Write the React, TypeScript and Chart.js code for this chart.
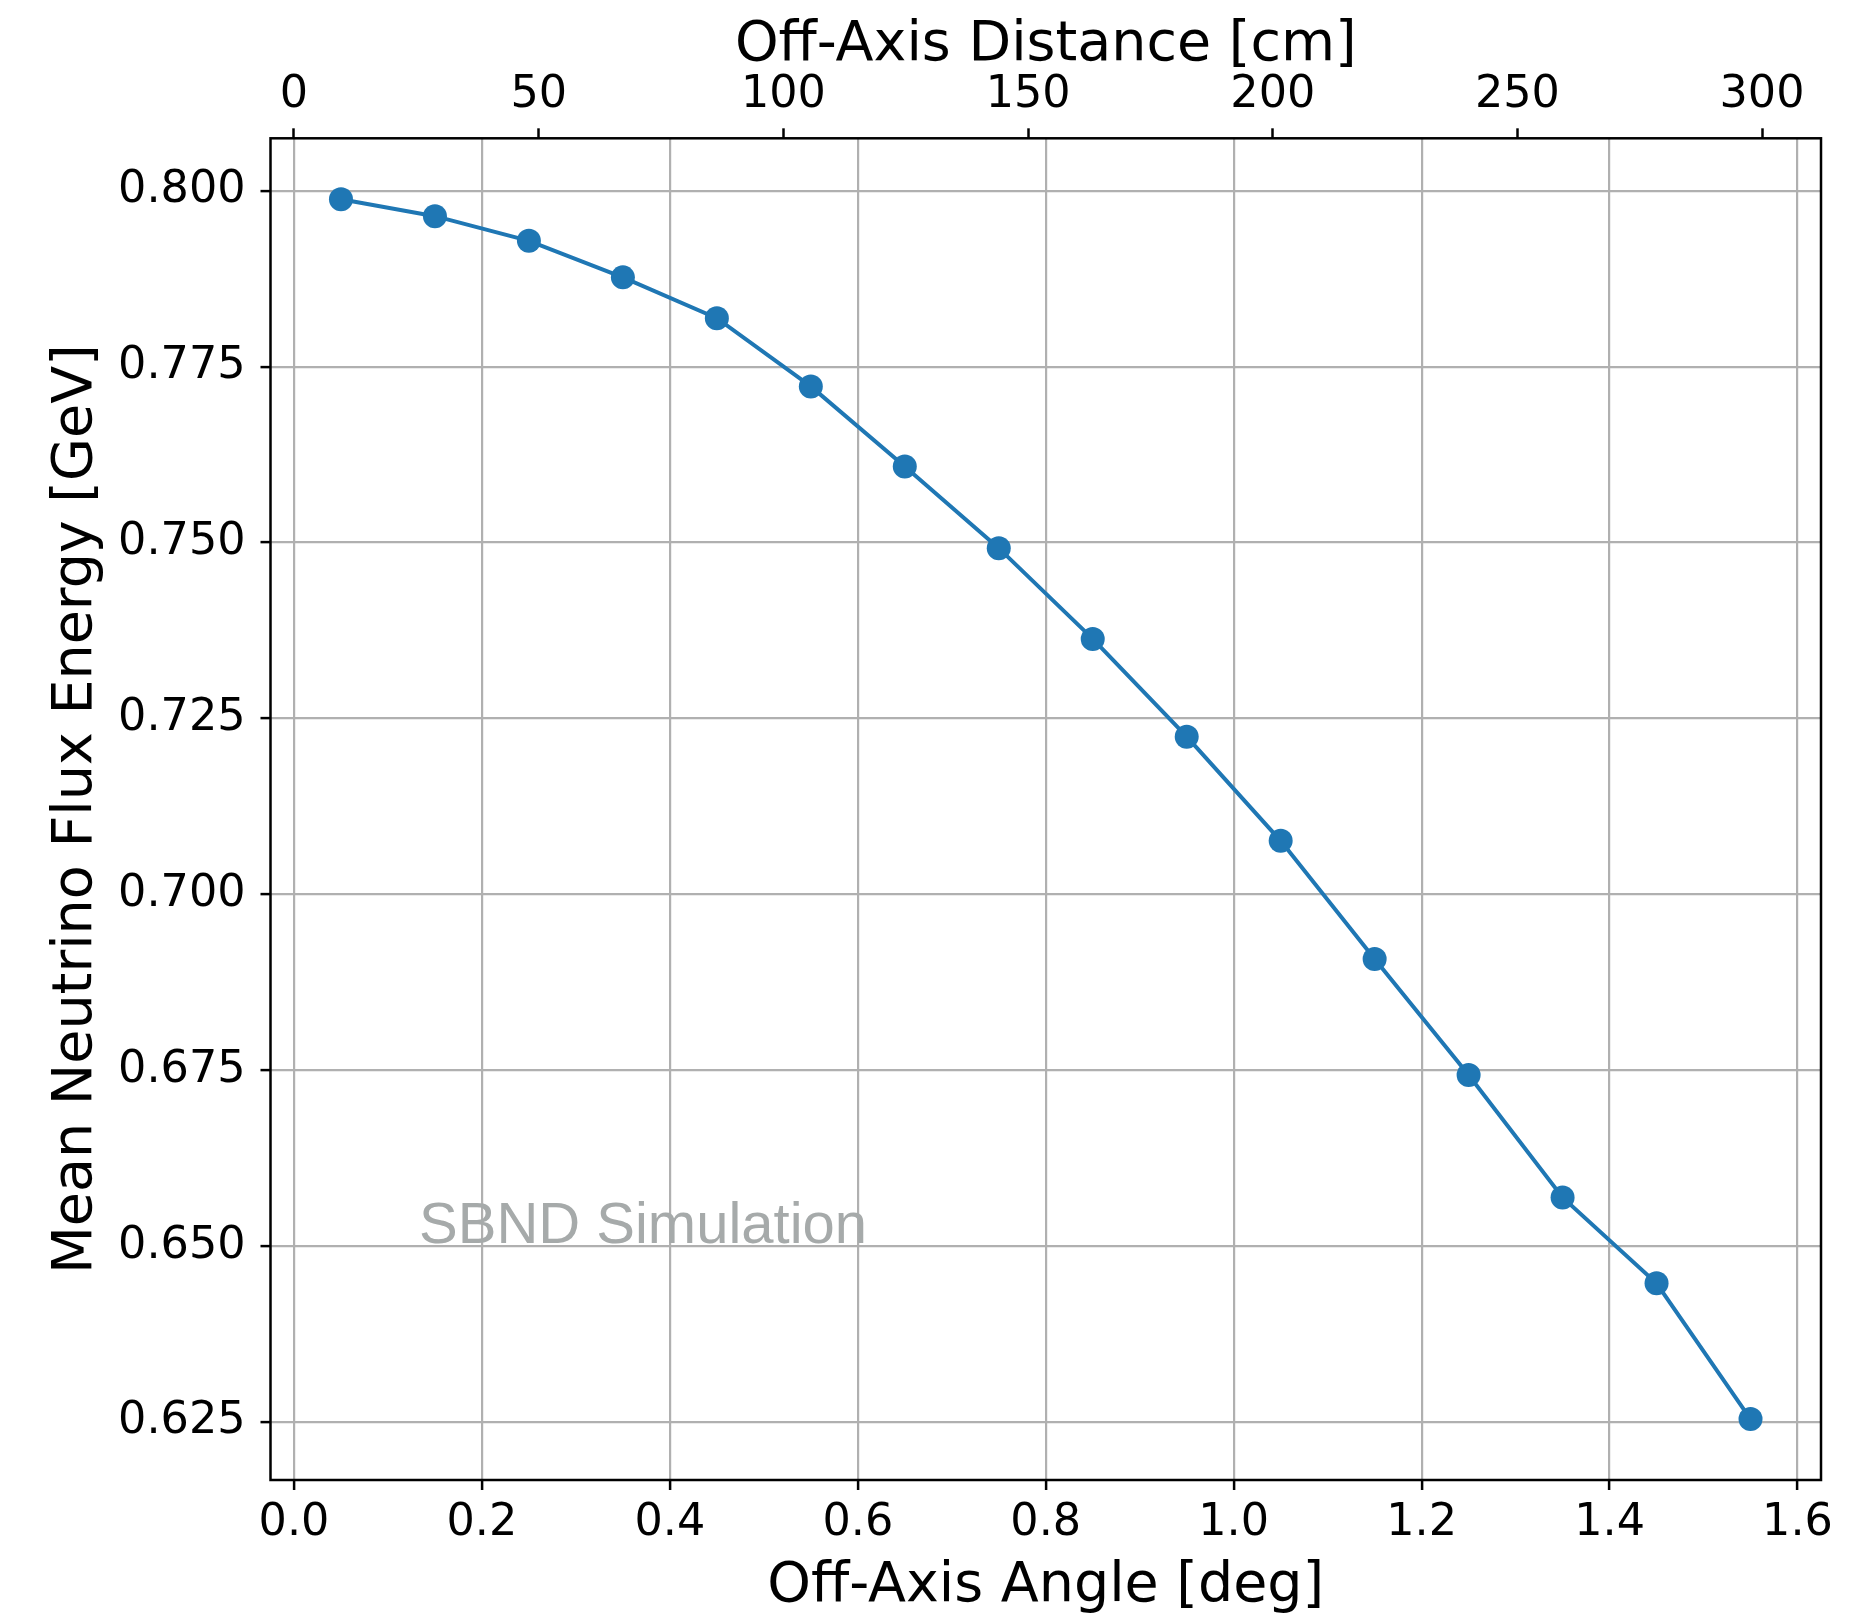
import React, { useEffect, useRef } from 'react';
import { Chart, registerables } from 'chart.js';

Chart.register(...registerables);

// ---- data ----
const ANGLE_DEG = [0.05, 0.15, 0.25, 0.35, 0.45, 0.55, 0.65, 0.75, 0.85, 0.95, 1.05, 1.15, 1.25, 1.35, 1.45, 1.55];
const MEAN_ENERGY_GEV = [0.7988, 0.7964, 0.7929, 0.7877, 0.7819, 0.7722, 0.7608, 0.7492, 0.7363, 0.7224, 0.7076, 0.6908, 0.6743, 0.6569, 0.6447, 0.6254];
const X_TICKS = [0, 0.2, 0.4, 0.6, 0.8, 1.0, 1.2, 1.4, 1.6];
const Y_TICKS = [0.625, 0.65, 0.675, 0.7, 0.725, 0.75, 0.775, 0.8];
const TOP_TICKS_CM = [0, 50, 100, 150, 200, 250, 300];
const BASELINE_CM = 11000; // distance target -> detector (110 m)

const X_TITLE = 'Off-Axis Angle [deg]';
const TOP_TITLE = 'Off-Axis Distance [cm]';
const Y_TITLE = 'Mean Neutrino Flux Energy [GeV]';
const WATERMARK = 'SBND Simulation';

const W = 1871;
const H = 1614;
const TICK_FONT = { family: '"DejaVu Sans"', size: 44.5, lineHeight: 1 };
const TITLE_FONT = { family: '"DejaVu Sans"', size: 55.5, lineHeight: 1 };
const LINE_COLOR = '#1f77b4';
const GRID_COLOR = '#b0b0b0';

const cmToDeg = (cm: number) => (Math.atan(cm / BASELINE_CM) * 180) / Math.PI;

function range(vals: number[]) {
  const mn = Math.min(...vals);
  const mx = Math.max(...vals);
  const m = (mx - mn) * 0.05;
  return [mn - m, mx + m];
}

const framePlugin = {
  id: 'frameAndText',
  afterDraw(chart: any) {
    const { ctx, chartArea } = chart;
    const { left, right, top, bottom } = chartArea;
    ctx.save();
    // watermark
    ctx.font = '58px "Liberation Sans", Arial, sans-serif';
    ctx.fillStyle = 'rgb(166,170,170)';
    ctx.textAlign = 'left';
    ctx.textBaseline = 'alphabetic';
    ctx.fillText(WATERMARK, left + 0.0958 * (right - left), bottom - 0.1766 * (bottom - top));
    // frame
    ctx.strokeStyle = '#000';
    ctx.lineWidth = 2.5;
    ctx.strokeRect(left, top, right - left, bottom - top);
    ctx.restore();
  },
};

export default function App() {
  const ref = useRef<HTMLCanvasElement | null>(null);

  useEffect(() => {
    if (!ref.current) return;
    const [xMin, xMax] = range(ANGLE_DEG);
    const [yMin, yMax] = range(MEAN_ENERGY_GEV);
    const chart = new Chart(ref.current, {
      type: 'line',
      data: {
        datasets: [
          {
            data: ANGLE_DEG.map((a, i) => ({ x: a, y: MEAN_ENERGY_GEV[i] })),
            borderColor: LINE_COLOR,
            backgroundColor: LINE_COLOR,
            borderWidth: 4,
            pointRadius: 12,
            pointBorderWidth: 0,
            pointBackgroundColor: LINE_COLOR,
            pointHoverRadius: 12,
            tension: 0,
            fill: false,
          },
        ],
      },
      options: {
        responsive: false,
        animation: false,
        events: [],
        devicePixelRatio: 1,
        layout: { padding: { left: 0, right: 50, top: 0, bottom: 0 } },
        plugins: {
          legend: { display: false },
          tooltip: { enabled: false },
          title: { display: false },
        },
        scales: {
          x: {
            type: 'linear',
            position: 'bottom',
            min: xMin,
            max: xMax,
            afterBuildTicks: (s: any) => {
              s.ticks = X_TICKS.map((v) => ({ value: v }));
            },
            afterFit: (s: any) => {
              s.height = 134;
            },
            ticks: {
              autoSkip: false,
              maxRotation: 0,
              color: '#000',
              font: TICK_FONT,
              padding: 11,
              callback: (v: any) => Number(v).toFixed(1),
            },
            grid: {
              color: GRID_COLOR,
              lineWidth: 2.2,
              drawOnChartArea: true,
              drawTicks: true,
              tickLength: 10,
              tickColor: '#000',
              tickWidth: 2.5,
            },
            border: { display: false },
            title: {
              display: true,
              text: X_TITLE,
              color: '#000',
              font: TITLE_FONT,
              padding: { top: 0, bottom: 0 },
            },
          },
          x2: {
            type: 'linear',
            position: 'top',
            min: xMin,
            max: xMax,
            afterBuildTicks: (s: any) => {
              s.ticks = TOP_TICKS_CM.map((cm) => ({ value: cmToDeg(cm) }));
            },
            afterFit: (s: any) => {
              s.height = 138.3;
            },
            ticks: {
              autoSkip: false,
              maxRotation: 0,
              color: '#000',
              font: TICK_FONT,
              padding: 11,
              callback: (_v: any, i: number) => String(TOP_TICKS_CM[i]),
            },
            grid: {
              drawOnChartArea: false,
              drawTicks: true,
              tickLength: 10,
              tickColor: '#000',
              tickWidth: 2.5,
            },
            border: { display: false },
            title: {
              display: true,
              text: TOP_TITLE,
              color: '#000',
              font: TITLE_FONT,
              padding: { top: 18, bottom: 0 },
            },
          },
          y: {
            type: 'linear',
            position: 'left',
            min: yMin,
            max: yMax,
            afterBuildTicks: (s: any) => {
              s.ticks = Y_TICKS.map((v) => ({ value: v }));
            },
            afterFit: (s: any) => {
              s.width = 270.5;
            },
            ticks: {
              autoSkip: false,
              color: '#000',
              font: TICK_FONT,
              padding: 15,
              callback: (v: any) => Number(v).toFixed(3),
            },
            grid: {
              color: GRID_COLOR,
              lineWidth: 2.2,
              drawOnChartArea: true,
              drawTicks: true,
              tickLength: 10,
              tickColor: '#000',
              tickWidth: 2.5,
            },
            border: { display: false },
            title: {
              display: true,
              text: Y_TITLE,
              color: '#000',
              font: TITLE_FONT,
              padding: { top: 49, bottom: 0 },
            },
          },
        },
      },
      plugins: [framePlugin],
    } as any);
    return () => chart.destroy();
  }, []);

  return (
    <div style={{ position: 'fixed', left: 0, top: 0, width: W, height: H, background: '#fff' }}>
      <canvas ref={ref} width={W} height={H} style={{ display: 'block', width: W, height: H }} />
    </div>
  );
}
